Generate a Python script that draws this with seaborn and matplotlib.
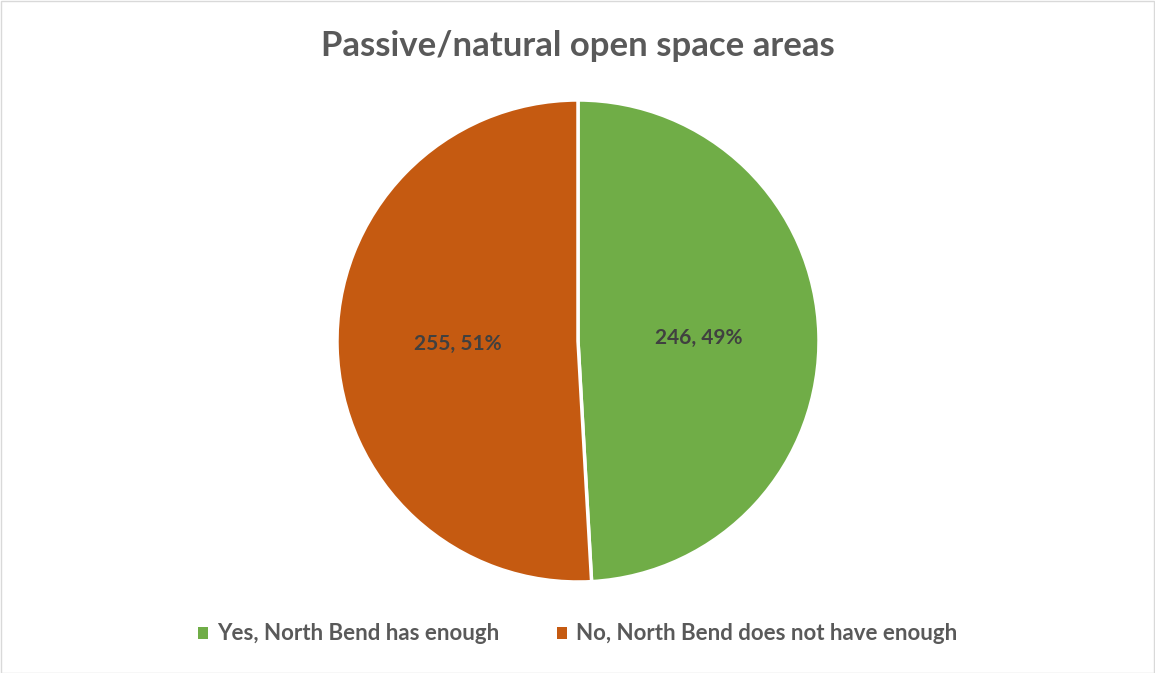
import matplotlib
matplotlib.use("Agg")
import matplotlib.pyplot as plt
import seaborn as sns
from matplotlib.patches import Rectangle

categories = ["Yes, North Bend has enough", "No, North Bend does not have enough"]
values = [246, 255]
colors = ["#70AD47", "#C55A11"]
title = "Passive/natural open space areas"

sns.set_theme(style="white")
plt.rcParams['font.family'] = ['Lato', 'DejaVu Sans']

fig = plt.figure(figsize=(11.55, 6.73), dpi=100)
W, H = 1155, 673
cx, cy, r = 578, 341, 241
ax = fig.add_axes([(cx - r) / W, (H - cy - r) / H, 2 * r / W, 2 * r / H])

total = sum(values)

def fmt(p):
    v = int(round(p * total / 100.0))
    return f"{v}, {int(round(p))}%"

wedges, texts, autotexts = ax.pie(
    values, colors=colors, startangle=90, counterclock=False,
    autopct=fmt, pctdistance=0.5,
    wedgeprops=dict(edgecolor="white", linewidth=2.5),
    textprops=dict(color="#404040", fontsize=15, fontweight="bold"),
    radius=1.0,
)
ax.set_xlim(-1.0, 1.0)
ax.set_ylim(-1.0, 1.0)
ax.set_aspect("equal")
ax.axis("off")

fig.text(0.5, (H - 46) / H, title, ha="center", va="center",
         fontsize=25, fontweight="bold", color="#595959")

handles = [Rectangle((0, 0), 1, 1, facecolor=c, edgecolor="none") for c in colors]
fig.legend(handles, categories, loc="center", bbox_to_anchor=(0.5, (H - 634) / H),
           ncol=2, frameon=False, handlelength=0.45, handleheight=0.45,
           handletextpad=0.4, columnspacing=2.6, labelcolor="#595959",
           prop=dict(family=['Lato', 'DejaVu Sans'], weight="bold", size=16))

fig.patches.append(Rectangle((0.5 / W, 0.5 / H), 1 - 1.5 / W, 1 - 1.5 / H,
                             transform=fig.transFigure, fill=False,
                             edgecolor="#D9D9D9", linewidth=1))

fig.savefig("out.png", dpi=100, facecolor="white")
